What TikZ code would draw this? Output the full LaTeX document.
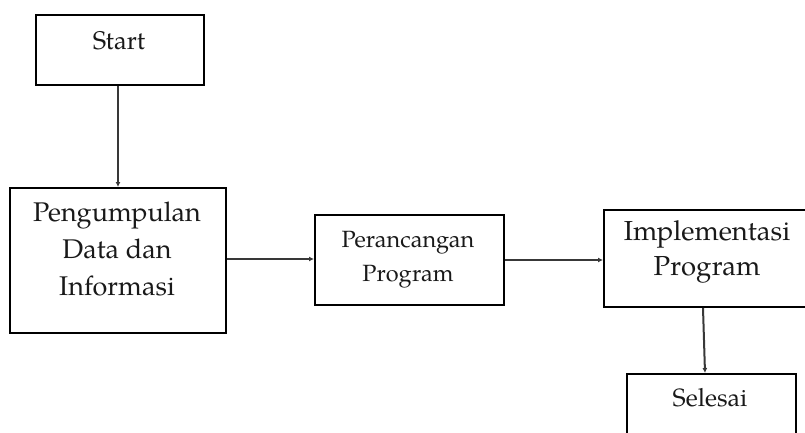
\documentclass[tikz,border=0pt]{standalone}
\usepackage{fontspec}
\setmainfont{TeX Gyre Pagella}
\usetikzlibrary{arrows.meta}
\tikzset{
  box/.style={draw=black, line width=2pt, inner sep=0pt, anchor=north west},
  lbl/.style={align=center, inner sep=0pt, text=black!90},
  arr/.style={draw=black!78, line width=2pt, -{Latex[length=5pt,width=5pt]}},
}
\begin{document}
\begin{tikzpicture}[x=1pt,y=-1pt]
\useasboundingbox (0,0) rectangle (805,432);
\clip (0,0) rectangle (805,432);
% boxes
\node[box, minimum width=168pt, minimum height=70pt] (start) at (35,14) {};
\node[box, minimum width=216pt, minimum height=145pt] (peng) at (9,187) {};
\node[box, minimum width=189pt, minimum height=90pt] (peran) at (314,214) {};
\node[box, minimum width=208pt, minimum height=97pt] (impl) at (603,209) {};
\node[box, minimum width=169pt, minimum height=80pt] (sel) at (626,373) {};
% texts
\node[lbl, font=\fontsize{25.5}{28}\selectfont] (tstart) at (119,41) {Start};
\node[lbl, font=\fontsize{27}{37}\selectfont] (tpeng) at (117,249) {Pengumpulan\\Data dan\\Informasi};
\node[lbl, font=\fontsize{23.5}{34}\selectfont] (tperan) at (408,260) {Perancangan\\Program};
\node[lbl, font=\fontsize{27.5}{35}\selectfont] (timpl) at (707,252) {Implementasi\\Program};
\node[lbl, font=\fontsize{25}{28}\selectfont] (tsel) at (710,398) {Selesai};
% connectors
\draw[arr] (peng.north |- start.south) -- (peng.north);
\draw[arr] ([yshift=1.5pt]peng.east) -- ([yshift=1.5pt]peng.east -| peran.west);
\draw[arr] (peran.east) -- (peran.east -| impl.west);
\draw[arr] ([xshift=-5pt]impl.south) -- ([xshift=-6.5pt]sel.north);
\end{tikzpicture}
\end{document}
